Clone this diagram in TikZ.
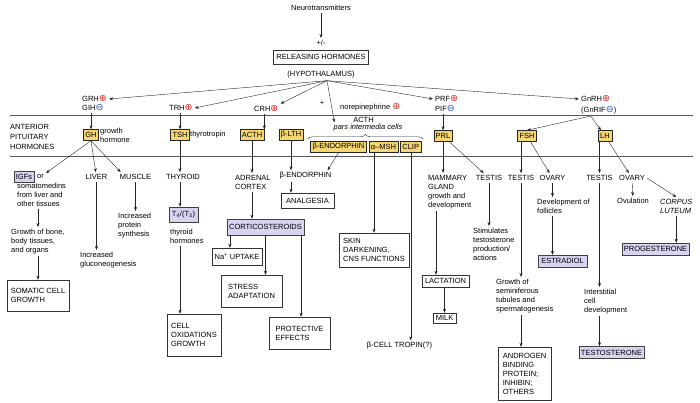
\documentclass[tikz,border=0pt]{standalone}
\usepackage{fontspec}
\setmainfont{Liberation Sans}
\newfontfamily\symfont{DejaVu Sans}
\usetikzlibrary{arrows.meta,positioning,decorations.pathreplacing}
\definecolor{pityellow}{RGB}{246,214,112}
\definecolor{prodlilac}{RGB}{214,212,240}
\definecolor{stimred}{RGB}{225,40,40}
\definecolor{inhibblue}{RGB}{50,80,200}
\newcommand{\stimsign}{{\symfont\fontsize{9.5}{9}\selectfont\color{stimred}⊕}}
\newcommand{\inhibsign}{{\symfont\fontsize{9.5}{9}\selectfont\color{inhibblue}⊖}}

\begin{document}
\begin{tikzpicture}[x=1pt, y=-1pt, font=\fontsize{7.5}{9}\selectfont,
               text_style/.style={inner sep=2pt, align=left},
               pit_style/.style={draw=black!85, fill=pityellow, inner xsep=2pt, inner ysep=1pt, minimum height=11pt},
               prod_style/.style={draw=black!75, fill=prodlilac, inner xsep=2pt, inner ysep=1pt, minimum height=12pt},
               box_style/.style={draw=black!80, align=left, inner sep=2pt},
               arrow_style/.style={draw=black!85, -{Stealth[length=4pt,width=3pt]}},
               rule_style/.style={draw=black!65, line width=0.6pt},
               brace_style/.style={draw=black!85, decorate, decoration={brace,amplitude=5pt}}]
                \useasboundingbox (0,0) rectangle (700,403);

                % hypothalamus
                \node[text_style] (neuro) at (321,8) {Neurotransmitters};
                \node[text_style] (pm) at (321,43) {+/-};
                \node[box_style, inner xsep=3pt, minimum height=14pt] (rel) at (321,57) {RELEASING HORMONES};
                \node[text_style] (hyp) at (321,75) {(HYPOTHALAMUS)};
                \coordinate (hub) at ([xshift=6pt]hyp.south);

                \node[text_style, anchor=west] (grh) at (80,99) {GRH\stimsign};
                \node[text_style, anchor=west] (gih) at (80,108) {GIH\inhibsign};
                \node[text_style, anchor=west] (trh) at (167,108) {TRH\stimsign};
                \node[text_style, anchor=west] (crh) at (252,109) {CRH\stimsign};
                \node[text_style] (plus) at (322,103) {+};
                \node[text_style, anchor=west] (noreph) at (338,107) {norepinephrine \stimsign};
                \node[text_style, anchor=west] (prf) at (433,99) {PRF\stimsign};
                \node[text_style, anchor=west] (pif) at (433,109) {PIF\inhibsign};
                \node[text_style, anchor=west] (gnrh) at (579,99) {GnRH\stimsign};
                \node[text_style, anchor=west] (gnrif) at (579,110) {(GnRIF\inhibsign)};
                \coordinate (gnhub) at ([xshift=-8pt]gnrif.south);

                \draw[rule_style] (10,115) -- (693,115);
                \draw[rule_style] (10,156) -- (693,156);
                \node[text_style, anchor=north west] (ant) at (8,122) {ANTERIOR\\[1pt]PITUITARY\\[1pt]HORMONES};

                % anterior pituitary
                \node[pit_style] (gh) at (91,135) {GH};
                \node[text_style, anchor=north west] (ghname) at (98,126) {growth\\hormone};
                \node[pit_style] (tsh) at (180,135) {TSH};
                \node[text_style, anchor=west] (tshname) at (188,135) {thyrotropin};
                \node[pit_style] (acth) at (252,135) {ACTH};
                \node[pit_style] (blth) at (291,135) {β-LTH};
                \node[pit_style] (bendo) at (338.5,147) {β-ENDORPHIN};
                \node[pit_style, right=2pt of bendo] (amsh) {α–MSH};
                \node[pit_style, right=2pt of amsh] (clip) {CLIP};
                \node[text_style] (acthlbl) at (363.5,120) {ACTH};
                \node[text_style, font=\fontsize{7.5}{9}\selectfont\itshape] (pars) at (368,128) {pars intermedia cells};
                \draw[brace_style] ([xshift=-3pt,yshift=2pt]bendo.north west) -- ([xshift=2pt,yshift=2pt]clip.north east);
                \node[pit_style] (prl) at (443,136) {PRL};
                \node[pit_style] (fsh) at (527,136) {FSH};
                \node[pit_style] (lh) at (605,136) {LH};

                \draw[arrow_style] (neuro) -- (pm);
                \draw[arrow_style] (hub) -- (grh.east);
                \draw[arrow_style] (hub) -- (trh.east);
                \draw[arrow_style] (hub) -- (crh.north east);
                \draw[arrow_style] (hub) -- ([xshift=3pt]pars.north west);
                \draw[arrow_style] (hub) -- (prf.west);
                \draw[arrow_style] (hub) -- (gnrh.west);
                \draw[arrow_style] (gih.south -| gh) -- (gh);
                \draw[arrow_style] (trh.south -| tsh) -- (tsh);
                \draw[arrow_style] (crh.south -| acth.north east) -- (acth.north east);
                \draw[arrow_style] (pif.south -| prl) -- (prl);
                \draw[arrow_style] (gnhub) -- (fsh.north);
                \draw[arrow_style] (gnhub) -- (lh);

                % GH
                \node[prod_style, minimum height=11pt] (igf) at (24,177) {IGFs};
                \node[text_style] (orw) at (40.5,177) {or};
                \node[text_style, anchor=north west] (somato) at (15,181) {somatomedins\\from liver and\\other tissues};
                \node[text_style, anchor=north west] (bone) at (9,227) {Growth of bone,\\body tissues,\\and organs};
                \node[box_style, minimum width=62pt, minimum height=31pt] (somatic) at (38,295.5) {SOMATIC CELL\\GROWTH};
                \node[text_style] (liver) at (96.5,177) {LIVER};
                \node[text_style, anchor=north west] (gluco) at (78,250) {Increased\\gluconeogenesis};
                \node[text_style] (muscle) at (135.5,177) {MUSCLE};
                \node[text_style, anchor=north west] (protein) at (116,211) {Increased\\protein\\synthesis};

                \draw[arrow_style] (gh.south) -- (orw);
                \draw[arrow_style] (gh.south) -- (liver);
                \draw[arrow_style] (gh.south) -- ([xshift=3pt]muscle.north west);
                \draw[arrow_style] (somato.south -| somatic) -- (somatic |- bone.north);
                \draw[arrow_style] (bone.south -| somatic) -- (somatic);
                \draw[arrow_style] (liver.south) -- (liver.south |- gluco.north);
                \draw[arrow_style] (muscle) -- (muscle |- protein.north);

                % TSH
                \node[text_style] (thyroid) at (183,177) {THYROID};
                \node[prod_style, minimum width=29pt, minimum height=15pt] (t4) at (183.5,214.5) {T\textsubscript{4}/(T\textsubscript{3})};
                \node[text_style, anchor=north west] (thyhorm) at (168,227) {thyroid\\hormones};
                \node[box_style, minimum width=54pt, minimum height=42pt] (cell) at (194,335) {CELL\\OXIDATIONS\\GROWTH};

                \draw[arrow_style] (tsh) -- (tsh |- thyroid.north);
                \draw[arrow_style] (thyroid.south -| tsh) -- (t4.north -| tsh);
                \draw[arrow_style] (thyhorm.south -| tsh) -- (cell.north -| tsh);

                % ACTH
                \node[text_style, anchor=north west] (adrenal) at (233,173) {ADRENAL\\CORTEX};
                \node[prod_style, minimum height=16pt] (cortico) at (265.5,227) {CORTICOSTEROIDS};
                \node[box_style, minimum width=50pt, minimum height=17pt] (na) at (237,256.5) {Na\textsuperscript{+} UPTAKE};
                \node[box_style, minimum width=61pt, minimum height=32pt] (stress) at (251.5,291) {STRESS\\ADAPTATION};
                \node[box_style, minimum width=61pt, minimum height=32pt] (protect) at (299.5,333) {PROTECTIVE\\EFFECTS};
                \coordinate (naout) at ([xshift=3pt]cortico.south west);
                \coordinate (protout) at ([xshift=-3pt]cortico.south east);

                \draw[arrow_style] (acth) -- (acth |- adrenal.north);
                \draw[arrow_style] (adrenal.south -| acth) -- (cortico.north -| acth);
                \draw[arrow_style] (naout) -- (naout |- na.north);
                \draw[arrow_style] (cortico) -- (cortico |- stress.north);
                \draw[arrow_style] (protout) -- (protout |- protect.north);

                % pars intermedia
                \node[text_style] (bendtxt) at (305.5,176) {β-ENDORPHIN};
                \node[box_style, minimum width=53pt, minimum height=15pt] (analg) at (307.5,200.5) {ANALGESIA};
                \node[box_style, minimum width=70pt, minimum height=34pt] (skin) at (374,250) {SKIN\\DARKENING,\\CNS FUNCTIONS};
                \node[text_style] (tropin) at (399.5,346) {β-CELL TROPIN(?)};

                \draw[arrow_style] (blth) -- (blth |- bendtxt.north);
                \draw[arrow_style] (bendo.south) -- ([xshift=-6pt]bendtxt.north east);
                \draw[arrow_style] (bendtxt.south -| blth) -- (analg.north -| blth);
                \draw[arrow_style] (amsh.south -| skin) -- (skin);
                \draw[arrow_style] (clip) -- (clip |- tropin.north);

                % PRL
                \node[text_style, anchor=north west] (mammary) at (426,173) {MAMMARY\\GLAND\\growth and\\development};
                \node[box_style, minimum width=47pt, minimum height=12pt] (lact) at (445.5,281) {LACTATION};
                \node[box_style, minimum width=23pt, minimum height=10pt] (milk) at (444.5,318) {MILK};
                \node[text_style] (testisA) at (489,178) {TESTIS};
                \node[text_style, anchor=north west] (stimul) at (471,226) {Stimulates\\testosterone\\production/\\actions};
                \coordinate (lactin) at ([xshift=-9.5pt]lact.north);

                \draw[arrow_style] (prl) -- (prl |- mammary.north);
                \draw[arrow_style] (prl) -- (testisA);
                \draw[arrow_style] (mammary.south -| lactin) -- (lactin);
                \draw[arrow_style] (lact.south -| milk) -- (milk);
                \draw[arrow_style] (testisA) -- (testisA |- stimul.north);

                % FSH
                \node[text_style] (testisB) at (521,178) {TESTIS};
                \node[text_style] (ovaryA) at (552.5,178) {OVARY};
                \node[text_style, anchor=north west] (semin) at (494,277) {Growth of\\seminiferous\\tubules and\\spermatogenesis};
                \node[box_style, minimum width=53pt, minimum height=53pt] (androgen) at (524.5,373.5) {ANDROGEN\\BINDING\\PROTEIN;\\INHIBIN;\\OTHERS};
                \node[text_style, anchor=north west] (follic) at (535,197) {Development of\\follicles};
                \node[prod_style, minimum width=49pt] (estradiol) at (562.5,261) {ESTRADIOL};

                \draw[arrow_style] (fsh.south -| testisB) -- (testisB);
                \draw[arrow_style] (fsh) -- (ovaryA);
                \draw[arrow_style] (testisB) -- (testisB |- semin.north);
                \draw[arrow_style] (semin.south -| testisB) -- (androgen.north -| testisB);
                \draw[arrow_style] (ovaryA) -- (ovaryA |- follic.north);
                \draw[arrow_style] (follic.south -| ovaryA) -- (estradiol.north -| ovaryA);

                % LH
                \node[text_style] (testisC) at (599.5,178) {TESTIS};
                \node[text_style] (ovaryB) at (632,178) {OVARY};
                \node[text_style, anchor=north west] (inters) at (582,287) {Interstitial\\cell\\development};
                \node[prod_style, minimum width=63pt] (testost) at (611.5,352.5) {TESTOSTERONE};
                \node[text_style] (ovul) at (633,201) {Ovulation};
                \node[text_style, anchor=north west, font=\fontsize{7.5}{9}\selectfont\itshape] (corpus) at (658,197) {CORPUS\\LUTEUM};
                \node[prod_style, minimum width=53pt] (progest) at (655.5,249) {PROGESTERONE};

                \draw[arrow_style] (lh.south -| testisC) -- (testisC);
                \draw[arrow_style] (lh) -- (ovaryB);
                \draw[arrow_style] (testisC) -- (testisC |- inters.north);
                \draw[arrow_style] (inters.south -| testisC) -- (testost.north -| testisC);
                \draw[arrow_style] (ovaryB) -- (ovul);
                \draw[arrow_style] (ovaryB.east) -- (corpus.north);
                \draw[arrow_style] (corpus) -- (corpus |- progest.north);
            \end{tikzpicture}
\end{document}
